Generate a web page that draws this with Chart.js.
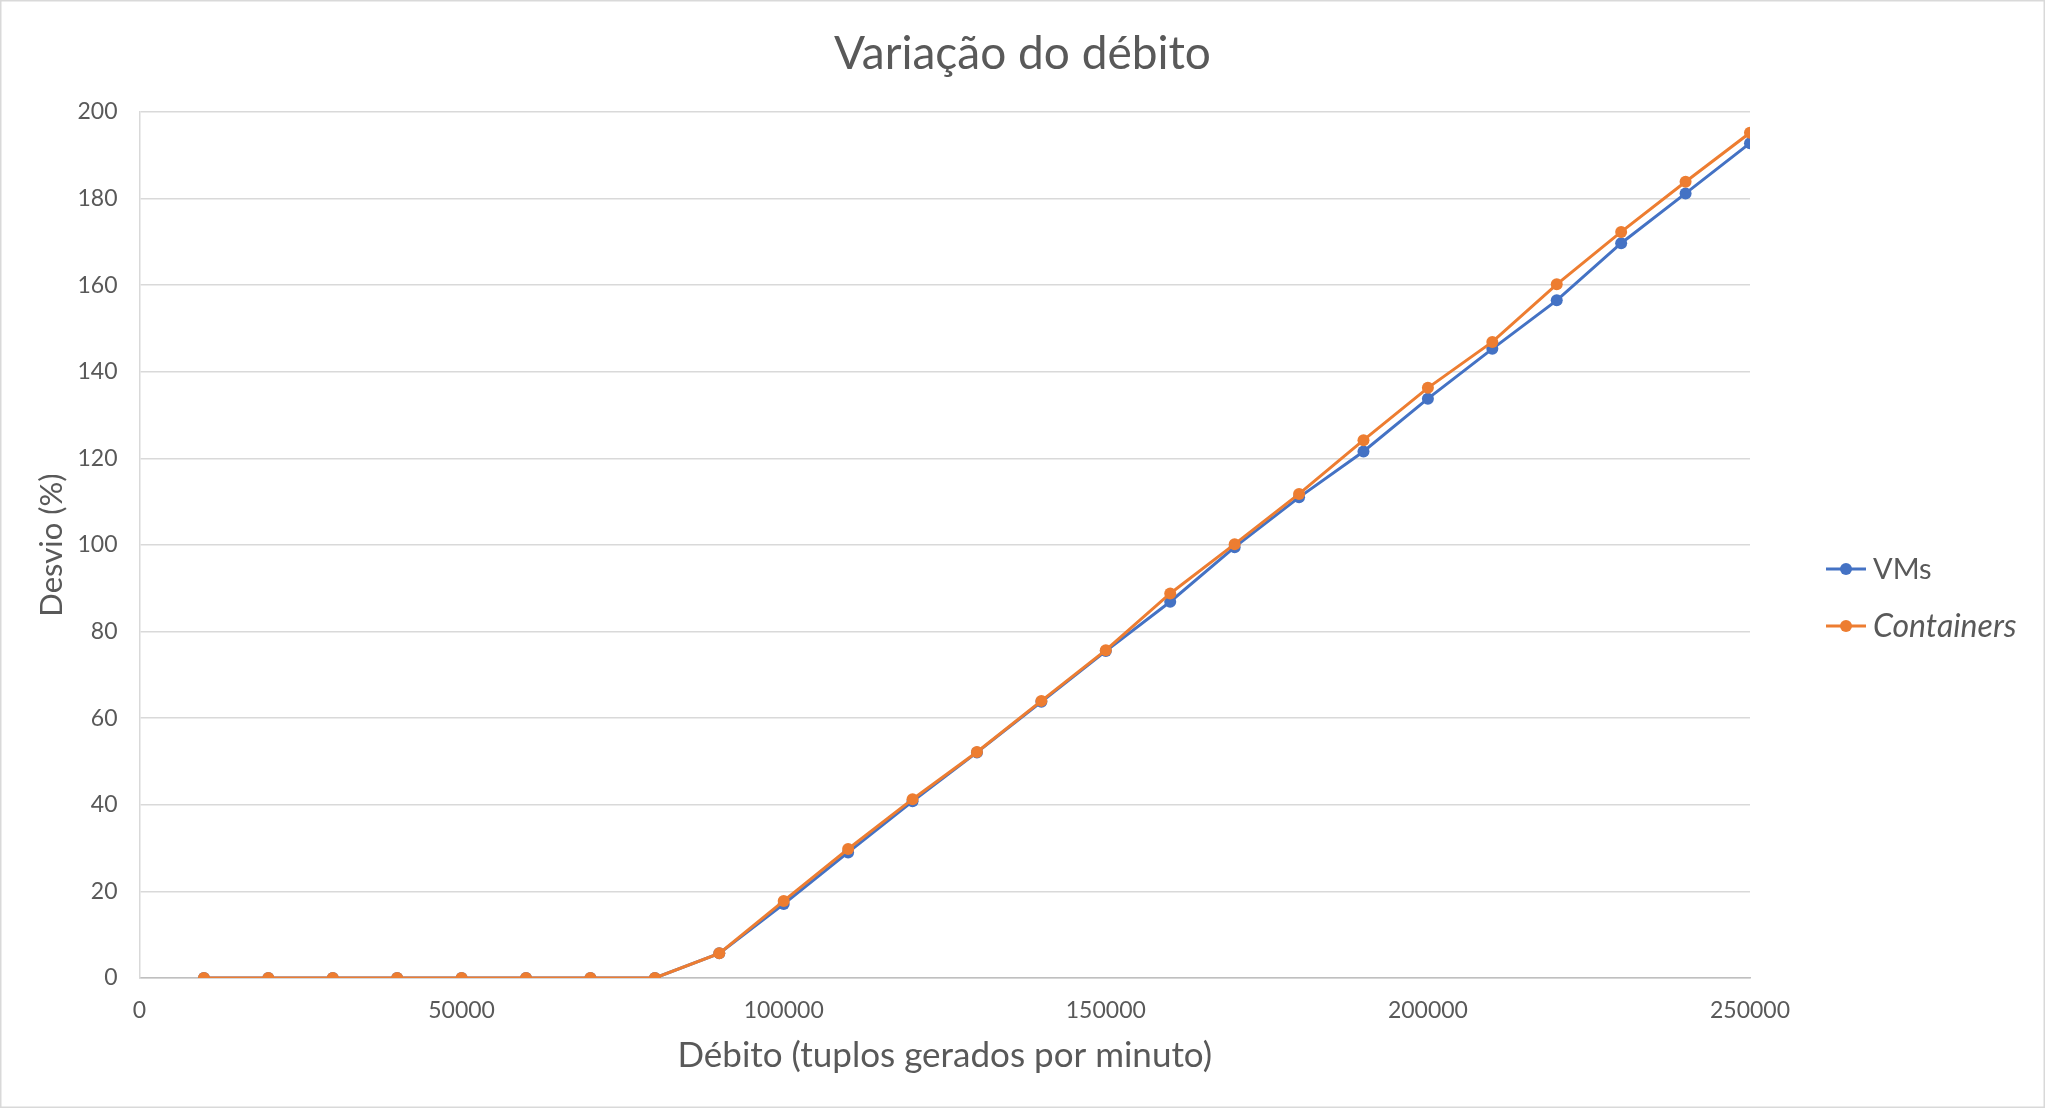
<!DOCTYPE html>
<html>
<head>
<meta charset="utf-8">
<script src="https://cdn.jsdelivr.net/npm/chart.js@4/dist/chart.umd.min.js"></script>
<style>
  html, body { margin: 0; padding: 0; background: #ffffff; }
  #wrap { width: 2045px; height: 1108px; position: relative; }
</style>
</head>
<body>
<div id="wrap"><canvas id="c" width="2045" height="1108"></canvas></div>
<script>
// ---- Data ----
const chartTitle = "Variação do débito";
const xAxisTitle = "Débito (tuplos gerados por minuto)";
const yAxisTitle = "Desvio (%)";
const seriesNames = ["VMs", "Containers"];
const throughput = [10000, 20000, 30000, 40000, 50000, 60000, 70000, 80000, 90000, 100000,
  110000, 120000, 130000, 140000, 150000, 160000, 170000, 180000, 190000, 200000,
  210000, 220000, 230000, 240000, 250000];
const vmsDeviation = [0, 0, 0, 0, 0, 0, 0, 0, 5.7, 17.1,
  29.0, 40.8, 52.1, 63.8, 75.5, 86.9, 99.5, 111.0, 121.6, 133.8,
  145.3, 156.5, 169.7, 181.2, 192.8];
const containersDeviation = [0, 0, 0, 0, 0, 0, 0, 0, 5.7, 17.8,
  29.8, 41.3, 52.2, 64.0, 75.7, 88.8, 100.2, 111.8, 124.2, 136.3,
  146.9, 160.2, 172.3, 183.9, 195.2];
const xTickValues = [0, 50000, 100000, 150000, 200000, 250000];
const yTickValues = [0, 20, 40, 60, 80, 100, 120, 140, 160, 180, 200];

// ---- Styles ----
const FONT = "Lato, 'Open Sans', sans-serif";
const TEXT = "#595959";
const BLUE = "#4472C4";
const ORANGE = "#ED7D31";

function toPoints(xs, ys) { return xs.map((x, i) => ({ x: x, y: ys[i] })); }

const backgroundAndBorder = {
  id: 'bgBorder',
  beforeDraw(chart) {
    const ctx = chart.ctx;
    ctx.save();
    ctx.fillStyle = '#ffffff';
    ctx.fillRect(0, 0, chart.width, chart.height);
    ctx.strokeStyle = '#d9d9d9';
    ctx.lineWidth = 1.5;
    ctx.strokeRect(0.75, 0.75, chart.width - 1.5, chart.height - 1.5);
    ctx.restore();
  }
};

const pageTitle = {
  id: 'pageTitle',
  afterDraw(chart) {
    const ctx = chart.ctx;
    ctx.save();
    ctx.fillStyle = TEXT;
    ctx.font = '46px ' + FONT;
    ctx.textAlign = 'center';
    ctx.textBaseline = 'middle';
    ctx.fillText(chartTitle, chart.width / 2, 54);
    ctx.restore();
  }
};

const customLegend = {
  id: 'customLegend',
  afterDraw(chart) {
    const ctx = chart.ctx;
    const x0 = chart.chartArea.right + 76;
    const rows = [569, 626];
    const sizes = [29, 32];
    ctx.save();
    chart.data.datasets.forEach((ds, i) => {
      const y = rows[i];
      ctx.strokeStyle = ds.borderColor;
      ctx.lineWidth = 3;
      ctx.beginPath();
      ctx.moveTo(x0, y);
      ctx.lineTo(x0 + 40, y);
      ctx.stroke();
      ctx.fillStyle = ds.borderColor;
      ctx.beginPath();
      ctx.arc(x0 + 20, y, 6, 0, Math.PI * 2);
      ctx.fill();
      ctx.fillStyle = TEXT;
      ctx.font = (i === 1 ? 'italic ' : '') + sizes[i] + 'px ' + FONT;
      ctx.textBaseline = 'middle';
      ctx.textAlign = 'left';
      ctx.fillText(ds.label, x0 + 47, y + 1);
    });
    ctx.restore();
  }
};

new Chart(document.getElementById('c'), {
  type: 'line',
  data: {
    datasets: [
      {
        label: seriesNames[0],
        data: toPoints(throughput, vmsDeviation),
        borderColor: BLUE,
        backgroundColor: BLUE,
        pointBackgroundColor: BLUE,
        pointBorderColor: BLUE,
        borderWidth: 3,
        pointRadius: 6,
        pointBorderWidth: 0,
        tension: 0,
        order: 1
      },
      {
        label: seriesNames[1],
        data: toPoints(throughput, containersDeviation),
        borderColor: ORANGE,
        backgroundColor: ORANGE,
        pointBackgroundColor: ORANGE,
        pointBorderColor: ORANGE,
        borderWidth: 3,
        pointRadius: 6,
        pointBorderWidth: 0,
        tension: 0,
        order: 0
      }
    ]
  },
  options: {
    responsive: false,
    animation: false,
    layout: { padding: { left: 0, right: 295, top: 112, bottom: 0 } },
    plugins: {
      legend: { display: false },
      tooltip: { enabled: false },
      title: { display: false }
    },
    scales: {
      x: {
        type: 'linear',
        min: 0,
        max: 250000,
        afterBuildTicks(scale) { scale.ticks = xTickValues.map(v => ({ value: v })); },
        afterFit(scale) { scale.height = 130; },
        ticks: {
          color: TEXT,
          font: { family: FONT, size: 23 },
          padding: 19,
          maxRotation: 0,
          callback: (v) => String(v)
        },
        grid: { display: false, drawTicks: false },
        border: { display: true, color: '#bfbfbf', width: 1.5 },
        title: {
          display: true,
          text: xAxisTitle,
          color: TEXT,
          font: { family: FONT, size: 35 },
          padding: { top: 0, bottom: 31 }
        }
      },
      y: {
        min: 0,
        max: 200,
        afterBuildTicks(scale) { scale.ticks = yTickValues.map(v => ({ value: v })); },
        afterFit(scale) { scale.width = 139.5; },
        ticks: {
          color: TEXT,
          font: { family: FONT, size: 23 },
          padding: 22,
          callback: (v) => String(v)
        },
        grid: { color: '#d9d9d9', lineWidth: 1.5, drawTicks: false },
        border: { display: true, color: '#d9d9d9', width: 1.5 },
        title: {
          display: true,
          text: yAxisTitle,
          color: TEXT,
          font: { family: FONT, size: 31 },
          padding: { top: 33, bottom: 0 }
        }
      }
    }
  },
  plugins: [backgroundAndBorder, pageTitle, customLegend]
});
</script>
</body>
</html>
